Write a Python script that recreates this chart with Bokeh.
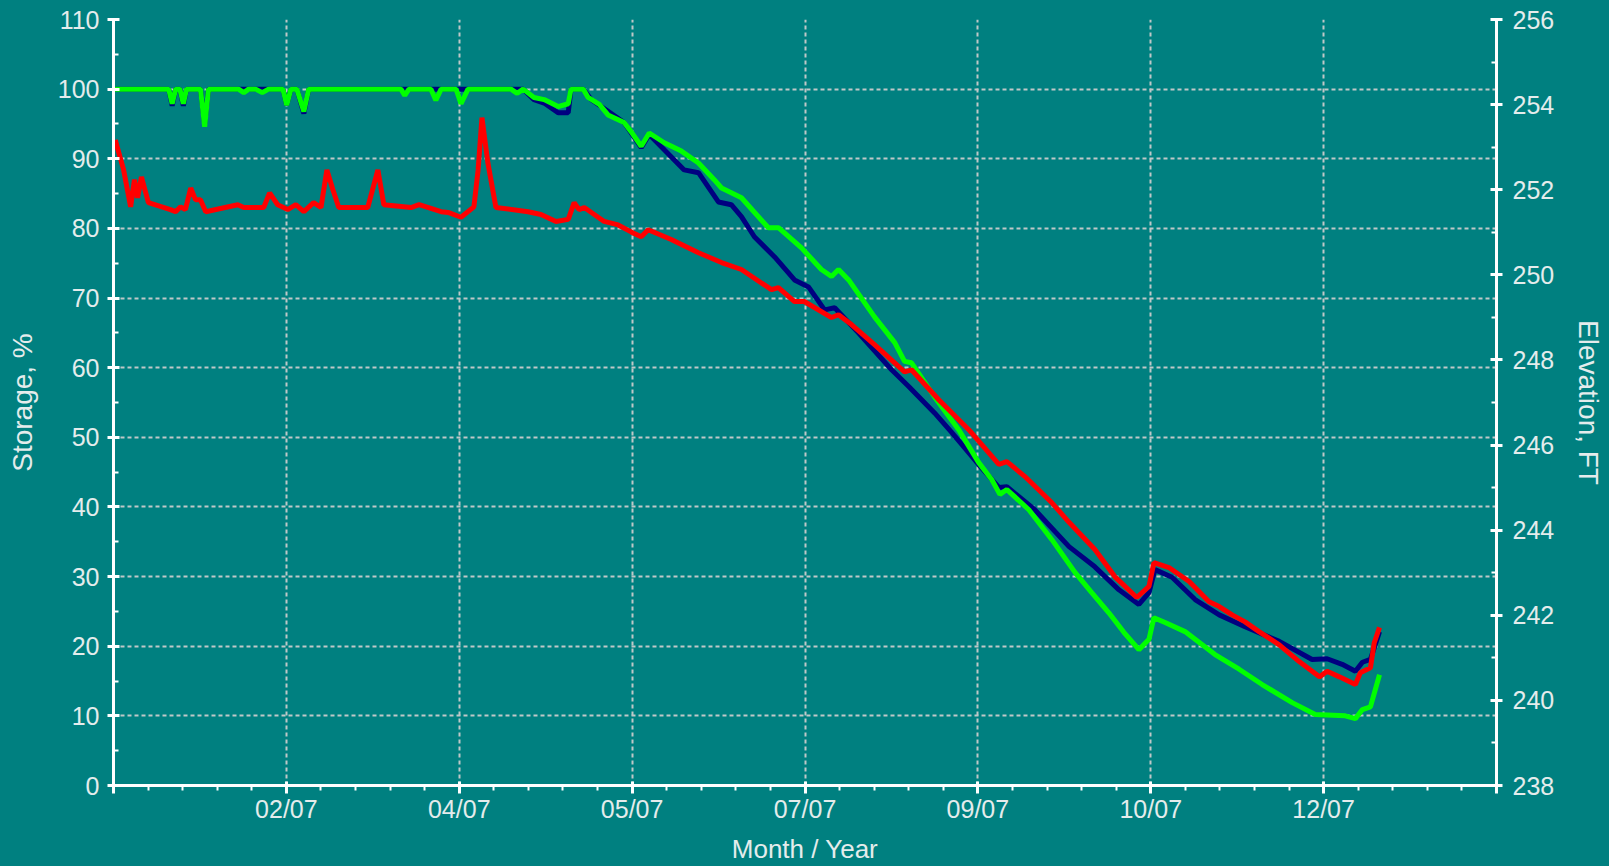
from bokeh.plotting import figure
from bokeh.models import LinearAxis, Range1d, FixedTicker
from bokeh.embed import file_html
from bokeh.resources import INLINE

# ---------------- data ----------------
# x = days since start of the period shown; y = storage, %
x_span_days = 396
month_labels = ["02/07", "04/07", "05/07", "07/07", "09/07", "10/07", "12/07"]

green_days = [0, 15.8, 16.8, 17.8, 19.0, 20.0, 20.9, 24.9, 26.1, 27.2, 35.8, 37.3, 38.7,
              40.7, 42.6, 44.4, 48.5, 49.6, 50.8, 52.5, 54.5, 55.9, 82.3, 83.4, 84.6,
              90.9, 92.3, 93.8, 98.1, 99.5, 101.5, 113.8, 115.6, 117.3, 120.4, 123.3,
              127.3, 130.2, 131.0, 134.5, 135.9, 139.1, 141.6, 146.2, 148.2, 151.1,
              153.4, 157.7, 162.6, 167.5, 172.0, 174.1, 179.8, 187.5, 190.4, 197.0,
              202.7, 205.6, 207.6, 210.5, 217.9, 223.7, 226.5, 228.5, 235.1, 242.0,
              247.7, 251.5, 253.8, 255.8, 262.1, 268.7, 275.3, 280.1, 285.0, 289.3,
              293.6, 296.5, 297.9, 301.1, 306.8, 315.4, 322.3, 328.9, 337.5, 344.1,
              352.7, 355.6, 357.6, 359.9, 362.5]
green_pct = [100, 100, 97.9, 100, 100, 97.9, 100, 100, 94.6, 100, 100, 99.5, 100,
             100, 99.5, 100, 100, 97.7, 100, 100, 96.8, 100, 100, 99.1, 100,
             100, 98.4, 100, 100, 97.9, 100, 100, 99.4, 100, 98.8, 98.5,
             97.5, 97.9, 100, 100, 98.8, 97.8, 96.3, 95.2, 93.9, 91.8,
             93.7, 92.3, 91.1, 89.4, 87.0, 85.8, 84.4, 80.1, 80.1, 77.2,
             74.1, 73.1, 74.1, 72.6, 67.3, 63.6, 60.9, 60.7, 55.8, 51.1,
             46.4, 43.9, 41.8, 42.5, 39.6, 35.3, 30.6, 27.7, 24.8, 22.0,
             19.5, 21.0, 24.1, 23.4, 22.1, 18.8, 16.7, 14.5, 11.9, 10.2,
             10.0, 9.6, 10.9, 11.3, 15.9]

navy_days = [0, 15.8, 16.8, 17.8, 19.0, 20.0, 20.9, 24.9, 26.1, 27.2, 48.5, 49.6, 50.8,
             52.5, 54.5, 55.9, 117.3, 120.4, 123.3, 127.3, 130.2, 131.0, 134.5, 136.8,
             141.1, 146.2, 151.1, 153.4, 157.7, 163.4, 167.5, 173.2, 176.9, 179.8,
             183.5, 189.3, 195.0, 199.0, 203.6, 206.5, 213.3, 222.8, 227.7, 235.1,
             240.0, 247.7, 253.5, 255.8, 263.8, 273.6, 281.0, 287.9, 293.6, 296.5,
             298.2, 303.1, 309.7, 316.6, 324.0, 333.8, 343.2, 347.5, 351.8, 355.6,
             357.6, 359.9, 362.5]
navy_pct = [100, 100, 97.6, 100, 100, 97.6, 100, 100, 95.0, 100, 100, 97.7, 100,
            100, 96.5, 100, 100, 98.5, 98.0, 96.6, 96.6, 100, 100, 98.5,
            97.0, 95.2, 91.6, 93.5, 91.3, 88.4, 88.0, 83.8, 83.4, 81.7,
            78.8, 75.9, 72.6, 71.6, 68.3, 68.6, 65.0, 59.7, 57.3, 53.5,
            50.7, 46.1, 42.8, 42.9, 39.6, 34.3, 31.4, 28.1, 26.0, 27.7,
            31.0, 29.9, 26.7, 24.5, 22.8, 20.7, 18.1, 18.2, 17.4, 16.4,
            17.7, 18.1, 22.1]

red_days = [0.5, 2.9, 4.9, 6.0, 6.9, 8.0, 8.6, 10.0, 16.3, 17.8, 19.2, 20.6, 22.1, 23.5,
            24.9, 26.4, 35.6, 37.3, 43.0, 44.7, 47.0, 49.9, 52.2, 54.5, 57.3, 59.4,
            61.1, 62.8, 64.5, 72.8, 75.7, 77.4, 85.2, 87.5, 93.8, 95.8, 99.5, 103.2,
            104.4, 105.5, 107.2, 109.5, 118.7, 122.4, 126.7, 130.2, 131.9, 133.3,
            134.8, 140.5, 144.5, 148.2, 151.1, 153.1, 159.7, 167.5, 174.1, 179.8,
            188.4, 190.4, 195.0, 197.8, 205.6, 207.6, 211.3, 217.9, 226.5, 228.5,
            236.3, 244.9, 253.5, 255.8, 260.9, 268.7, 273.6, 281.0, 286.7, 293.0,
            296.5, 297.9, 302.2, 308.0, 313.7, 316.6, 320.3, 324.0, 328.0, 333.8,
            339.5, 345.3, 347.5, 351.0, 355.6, 357.0, 359.9, 361.0, 362.5]
red_pct = [92.7, 88.4, 83.1, 87.0, 84.4, 87.4, 86.3, 83.7, 82.7, 82.4, 83.1, 82.7, 85.8, 84.1,
           84.1, 82.4, 83.4, 83.0, 83.0, 85.1, 83.4, 82.7, 83.4, 82.4, 83.7, 83.0,
           88.4, 85.6, 83.0, 83.0, 88.4, 83.4, 83.0, 83.4, 82.4, 82.3, 81.6, 83.1,
           88.4, 95.9, 89.4, 83.0, 82.4, 82.0, 81.0, 81.3, 83.7, 82.7,
           83.0, 81.0, 80.5, 79.5, 78.8, 79.8, 78.4, 76.5, 75.1, 74.1,
           71.2, 71.5, 69.5, 69.5, 67.2, 67.6, 66.2, 63.3, 59.4, 59.7,
           55.4, 51.1, 46.1, 46.5, 44.4, 40.6, 37.8, 33.9, 30.0, 27.0,
           28.6, 32.0, 31.3, 29.3, 26.4, 25.7, 24.5, 23.5, 22.1, 20.2,
           17.8, 15.6, 16.4, 15.6, 14.5, 16.2, 16.9, 20.5, 22.7]

storage_ticks = list(range(0, 111, 10))
storage_minor = list(range(0, 111, 5))
elev_ticks = list(range(238, 257, 2))
elev_minor = list(range(238, 257, 1))

# ---------------- styling ----------------
BG = "#008080"
FG = "#e4ecec"
FONT = "Liberation Sans"

n_int = len(month_labels) + 1
major_x = [x_span_days * i / n_int for i in range(n_int + 1)]
minor_x = [x_span_days * i / (n_int * 5) for i in range(n_int * 5 + 1)]
x_overrides = {major_x[0]: "", major_x[-1]: ""}
for t, lab in zip(major_x[1:-1], month_labels):
    x_overrides[t] = lab

p = figure(width=1609, height=866,
           x_range=Range1d(0, x_span_days), y_range=Range1d(0, 110),
           output_backend="svg", toolbar_location=None, title=None,
           min_border_left=113, min_border_right=113,
           min_border_top=19, min_border_bottom=80,
           background_fill_color=BG, border_fill_color=BG,
           outline_line_color=None)
p.extra_y_ranges = {"elev": Range1d(238, 256)}

p.line(navy_days, navy_pct, line_color="#000080", line_width=5)
p.line(green_days, green_pct, line_color="#00ff00", line_width=5)
p.line(red_days, red_pct, line_color="#ff0000", line_width=5)

right = LinearAxis(y_range_name="elev")
p.add_layout(right, "right")

xax = p.xaxis[0]
yax = p.yaxis[0]
xax.ticker = FixedTicker(ticks=major_x, minor_ticks=minor_x)
xax.major_label_overrides = x_overrides
yax.ticker = FixedTicker(ticks=storage_ticks, minor_ticks=storage_minor)
right.ticker = FixedTicker(ticks=elev_ticks, minor_ticks=elev_minor)

xax.axis_label = "Month / Year"
yax.axis_label = "Storage, %"
right.axis_label = "Elevation, FT"

for ax in (xax, yax, right):
    ax.axis_line_color = "white"
    ax.axis_line_width = 3
    ax.major_tick_line_color = "white"
    ax.major_tick_line_width = 3
    ax.minor_tick_line_color = "white"
    ax.minor_tick_line_width = 2
    ax.major_label_text_color = FG
    ax.major_label_text_font = FONT
    ax.major_label_text_font_size = "25px"
    ax.axis_label_text_color = FG
    ax.axis_label_text_font = FONT
    ax.axis_label_text_font_style = "normal"
    ax.axis_label_text_font_size = "28px"

xax.axis_label_text_font_size = "26px"

yax.major_tick_in = 6
yax.major_tick_out = 6
yax.minor_tick_in = 5
yax.minor_tick_out = 1
yax.major_label_standoff = 8
yax.axis_label_standoff = 17

right.major_tick_in = 6
right.major_tick_out = 6
right.minor_tick_in = 5
right.minor_tick_out = 1
right.major_label_standoff = 10
right.axis_label_standoff = 16

xax.major_tick_in = 4
xax.major_tick_out = 8
xax.minor_tick_in = 0
xax.minor_tick_out = 5
xax.major_label_standoff = 1
xax.axis_label_standoff = 8

p.xgrid.ticker = FixedTicker(ticks=major_x[1:-1])
p.ygrid.ticker = FixedTicker(ticks=storage_ticks)
p.grid.grid_line_color = "#c0c8c8"
p.grid.grid_line_width = 2
p.grid.grid_line_dash = "4 3"

html = file_html(p, INLINE)
html = html.replace("</head>",
                    "<style>html,body{margin:0;padding:0;overflow:hidden;background:%s;}</style></head>" % BG, 1)
open("out.html", "w").write(html)
